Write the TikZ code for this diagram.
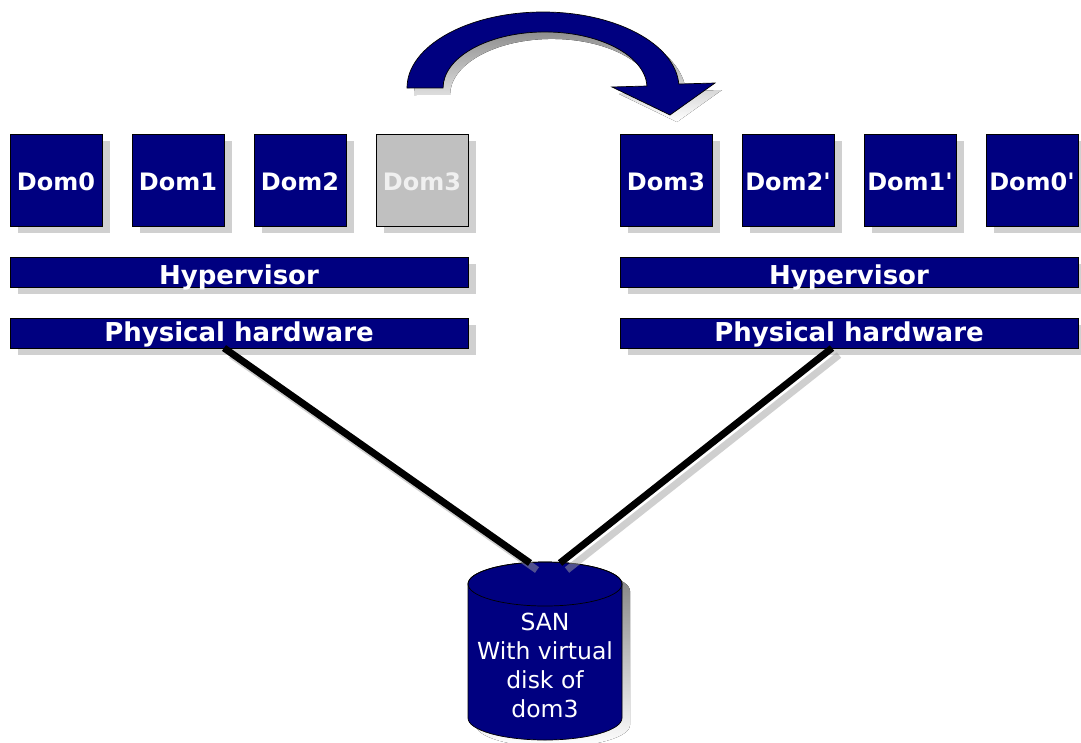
\documentclass[tikz,border=0pt]{standalone}
\usepackage{fontspec}
\setmainfont{DejaVu Sans}[Ligatures=TeXOff]
\usetikzlibrary{shadows}
\definecolor{navy}{RGB}{0,0,128}
\definecolor{shade}{RGB}{208,208,208}
\definecolor{lineshade}{RGB}{160,160,160}
\definecolor{idle}{RGB}{192,192,192}
\definecolor{idletext}{RGB}{240,240,240}

\begin{document}
\begin{tikzpicture}[x=1pt,y=1pt,
  box/.style={draw=black, line width=0.7pt, fill=navy, text=white, inner sep=0pt,
    text depth=0pt,
    drop shadow={shadow xshift=8pt, shadow yshift=-7pt, fill=shade, opacity=1}},
  dom/.style={box, minimum width=92pt, minimum height=92pt, text height=21pt,
    font=\bfseries\fontsize{24}{28}\selectfont},
  bar/.style={box, minimum width=458pt, minimum height=30pt,
    font=\bfseries\fontsize{26}{30}\selectfont},
  disktext/.style={text=white, align=center, inner sep=0pt,
    font=\fontsize{23.5}{29}\selectfont},
  link/.style={line width=7pt, black},
  linkshadow/.style={line width=7pt, lineshade, opacity=0.5},
  outline/.style={draw=black, line width=0.7pt}
]
\useasboundingbox (0,0) rectangle (1081,-742);

% curved migration arrow
\def\migratearrow{(407,-88) arc[start angle=180,end angle=3,x radius=136,y radius=76]
  -- (715,-83) -- (670,-115) -- (612,-87) -- (647,-86)
  arc[start angle=2,end angle=180,x radius=102,y radius=56] -- cycle}
\begin{scope}[shift={(7,-7)}]
  \fill[shade] \migratearrow;
\end{scope}
\filldraw[fill=navy, outline] \migratearrow;

% source host
\node[dom] (s0) at (56,-180) {Dom0};
\node[dom] (s1) at (178,-180) {Dom1};
\node[dom] (s2) at (300,-180) {Dom2};
\node[dom, fill=idle, text=idletext] (s3) at (422,-180) {Dom3};
\node[bar, text height=24pt] (shyp) at (239,-272) {Hypervisor};
\node[bar, text height=17pt] (shw) at (239,-333) {Physical hardware};

% destination host
\node[dom] (t3) at (666,-180) {Dom3};
\node[dom] (t2) at (788,-180) {Dom2'};
\node[dom] (t1) at (910,-180) {Dom1'};
\node[dom] (t0) at (1032,-180) {Dom0'};
\node[bar, text height=24pt] (thyp) at (849,-272) {Hypervisor};
\node[bar, text height=17pt] (thw) at (849,-333) {Physical hardware};

% shared storage
\fill[shade] (476,-591) -- (476,-725)
  arc[start angle=180,end angle=360,x radius=77,y radius=22] -- (630,-591)
  arc[start angle=0,end angle=180,x radius=77,y radius=22] -- cycle;
\filldraw[fill=navy, outline] (468,-584) -- (468,-718)
  arc[start angle=180,end angle=360,x radius=77,y radius=22] -- (622,-584)
  arc[start angle=0,end angle=180,x radius=77,y radius=22] -- cycle;
\draw[outline] (545,-584) ellipse[x radius=77, y radius=22];
\node[disktext] (san) at (545,-665.5) {SAN\\With virtual\\disk of\\dom3};

% storage links
\coordinate (la) at (224,-348);
\coordinate (lb) at (530,-563);
\coordinate (ra) at (832,-348);
\coordinate (rb) at (560,-563);
\draw[linkshadow] ([shift={(7,-7)}]la) -- ([shift={(7,-7)}]lb);
\draw[linkshadow] ([shift={(7,-7)}]ra) -- ([shift={(7,-7)}]rb);
\draw[link] (la) -- (lb);
\draw[link] (ra) -- (rb);
\end{tikzpicture}
\end{document}
